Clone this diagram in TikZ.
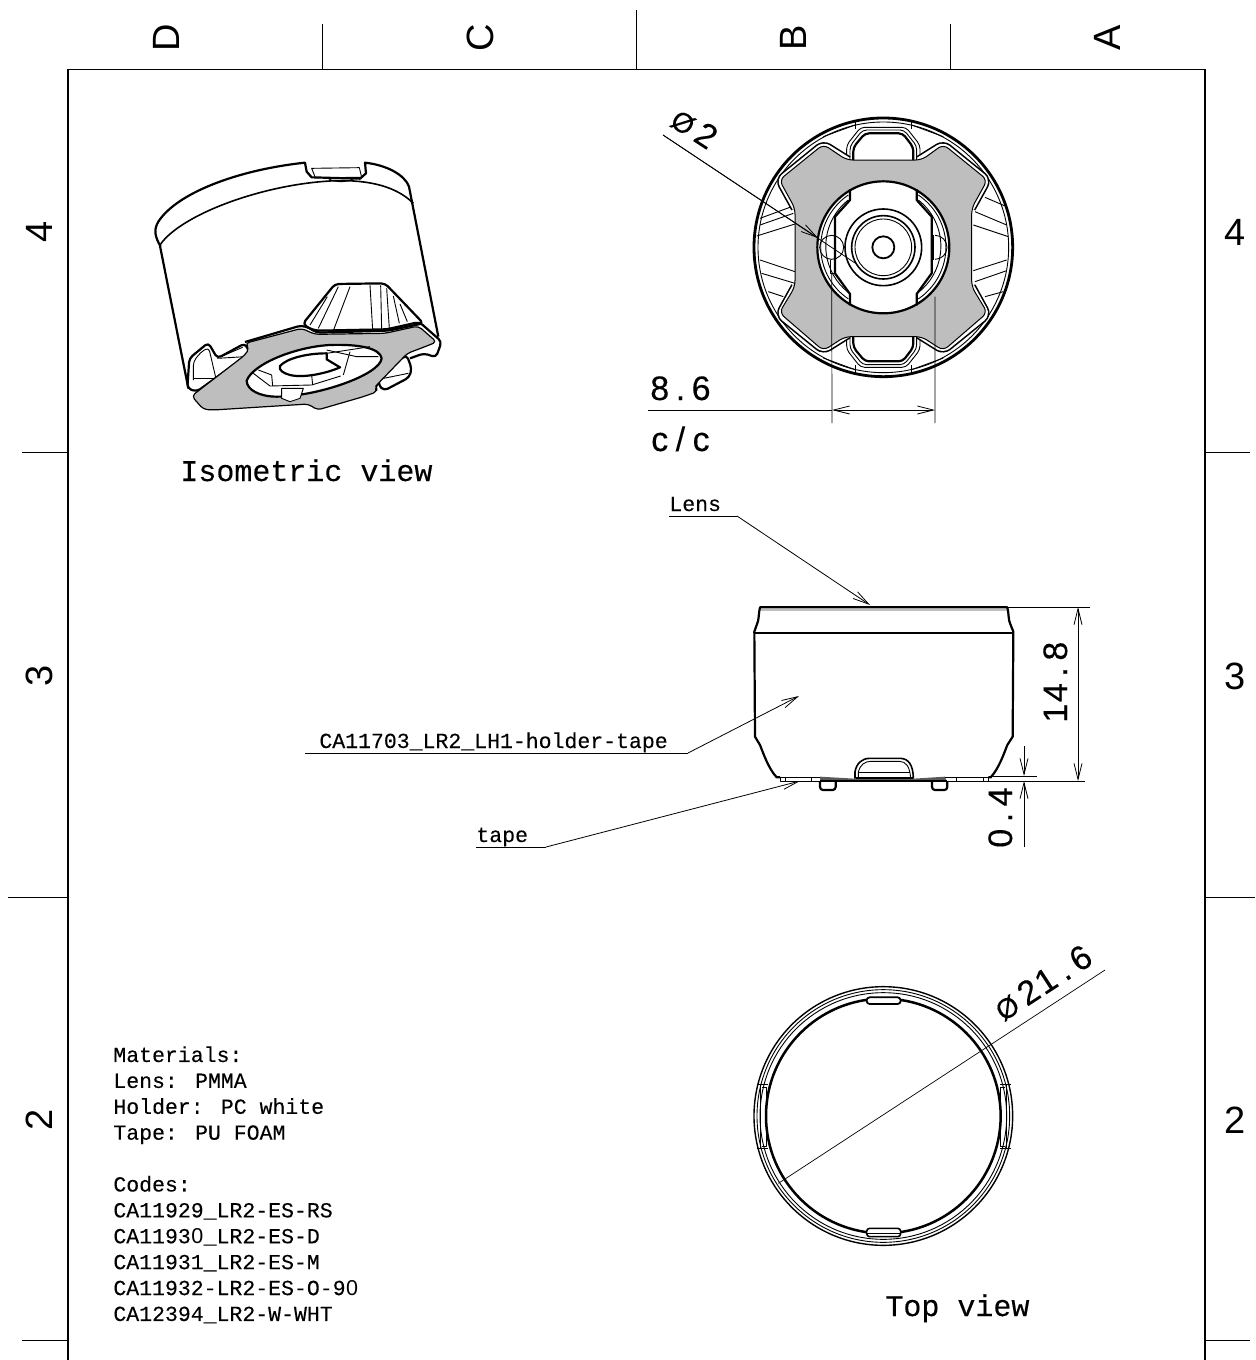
\documentclass[tikz,border=0pt]{standalone}
\usepackage{fontspec}
\setmainfont{Liberation Mono}
\newfontfamily\sidefont{Liberation Sans}
\usetikzlibrary{arrows.meta}
\usetikzlibrary{positioning}
\definecolor{plategray}{HTML}{BEBEBE}
\tikzstyle{thin line} = [line width = 0.35pt]
\tikzstyle{part} = [line width = 1.1pt, line join = round]
\tikzstyle{detail} = [line width = 0.45pt, line join = round]
\tikzstyle{plate} = [fill = plategray, line width = 0.6pt, line join = round]
\tikzstyle{arrow} = [line width = 0.4pt, -{Straight Barb[length = 8pt, width = 4pt]}]
\tikzstyle{zone} = [font = \sidefont\fontsize{19}{20}\selectfont, inner sep = 0pt]
\tikzstyle{sidezone} = [zone, rotate = 90]
\tikzstyle{note} = [font = \fontsize{10.75}{12.95}\selectfont\addfontfeature{FakeBold = 0.15}, inner sep = 0pt, anchor = base west]
\tikzstyle{title} = [font = \fontsize{15}{16}\selectfont\addfontfeature{FakeBold = 0.25}, inner sep = 0pt, anchor = base west]
\tikzstyle{dim} = [font = \sidefont\fontsize{17}{18}\selectfont\addfontfeature{FakeBold = 0.25}, inner sep = 0pt, anchor = base west]
% Fixed cell for the digits of a dimension
\newcommand{\cell}[1]{\hbox to 10.35pt{\hss#1\hss}}
\newcommand{\diam}{\hbox to 16pt{\hss\fontsize{14}{14}\selectfont Ø\hss}}
\newcommand{\plainzero}{\hbox to 0.6em{\hss{\sidefont 0}\hss}}
\begin{document}
\begin{tikzpicture}[x = 0.5pt, y = -0.5pt]
	\useasboundingbox (0, 0) rectangle (1255, 1360);

	% Frame and zone ticks
	\draw[line width = 0.9pt] (68, 1360) -- (68, 69);
	\draw[line width = 0.9pt] (1205, 69) -- (1205, 1360);
	\draw[line width = 0.5pt] (68, 69) -- (1205, 69);
	\draw[thin line] (322, 24) -- (322, 69);
	\draw[thin line] (636, 10) -- (636, 69);
	\draw[thin line] (950, 24) -- (950, 69);
	\draw[thin line] (22, 452) -- (68, 452);
	\draw[thin line] (8, 897) -- (68, 897);
	\draw[thin line] (22, 1340) -- (68, 1340);
	\draw[thin line] (1205, 452) -- (1250, 452);
	\draw[thin line] (1205, 897) -- (1255, 897);
	\draw[thin line] (1205, 1340) -- (1250, 1340);

	% Zone letters and numbers
	\node[sidezone] (zoneD) at (166, 38) {D};
	\node[sidezone] (zoneC) at (480, 38) {C};
	\node[sidezone] (zoneB) at (793, 38) {B};
	\node[sidezone] (zoneA) at (1107, 38) {A};
	\node[sidezone] (left4) at (39, 232) {4};
	\node[sidezone] (left3) at (39, 676) {3};
	\node[sidezone] (left2) at (39, 1120) {2};
	\node[zone] (right4) at (1235, 232) {4};
	\node[zone] (right3) at (1235, 676) {3};
	\node[zone] (right2) at (1235, 1120) {2};

	% Isometric view
	\begin{scope}[shift = {(130, 140)}, scale = 1/3]
		\draw[part] (92, 320) .. controls (75, 290) and (70, 270) .. (85, 245) .. controls (140, 160) and (320, 90) .. (525, 68) -- (530, 95) -- (545, 112) -- (690, 116) -- (708, 100) -- (705, 68) .. controls (770, 75) and (825, 105) .. (837, 140) -- (925, 590);
		\draw[part] (90, 318) -- (175, 745);
		\draw[part, line width = 0.8pt] (90, 315) .. controls (150, 225) and (400, 130) .. (620, 122) .. controls (720, 120) and (800, 140) .. (850, 190);
		\draw[detail] (545, 85) -- (688, 83) -- (695, 112) -- (556, 113) -- cycle;
		\draw[detail] (595, 116) .. controls (615, 128) and (650, 128) .. (670, 116);
		% Cone of the holder
		\draw[fill = white, part, rounded corners = 2pt] (518, 552) -- (615, 432) -- (765, 430) -- (880, 550) -- (775, 572) -- (560, 578) -- cycle;
		\foreach \xa/\ya/\xb/\yb in {540/555/592/470, 565/565/625/440, 610/572/660/440, 728/570/720/435, 755/570/752/436, 778/565/770/445, 808/550/790/468, 832/545/810/492}
			\draw[detail] (\xa, \ya) -- (\xb, \yb);
		% Left tab
		\draw[part, fill = white, rounded corners = 2pt] (172, 745) -- (178, 655) -- (235, 608) -- (262, 655) -- (345, 610) -- (360, 640) -- (200, 755) -- cycle;
		\draw[detail, rounded corners = 2pt] (190, 720) -- (190, 665) -- (212, 637) -- (236, 622) -- (258, 716);
		\draw[detail] (190, 716) -- (258, 716);
		\draw[detail] (262, 655) -- (345, 650);
		\draw[detail] (272, 650) -- (338, 622);
		% Right tab
		\draw[part, fill = white, rounded corners = 2pt] (745, 735) -- (762, 752) -- (838, 712) -- (845, 685) -- (830, 645) -- (750, 700) -- cycle;
		\draw[detail] (756, 716) -- (835, 700);
		% Plate
		\draw[part, rounded corners = 2pt] (345, 606) -- (515, 556) -- (558, 572) -- (770, 568) -- (868, 546) -- (935, 605) -- (918, 652) -- (882, 640) -- (840, 655);
		\draw[plate, rounded corners = 2pt] (185, 768) -- (345, 645) -- (358, 625) -- (345, 610) -- (515, 565) -- (555, 583) -- (765, 580) -- (865, 558) -- (920, 606) -- (880, 622) -- (832, 640) -- (745, 730) -- (736, 740) -- (742, 755) -- (700, 770) -- (562, 810) -- (535, 792) -- (250, 810) -- (220, 808) -- cycle;
		% Hole of the plate
		\draw[part, fill = white] (350, 722) .. controls (370, 670) and (500, 620) .. (600, 615) .. controls (690, 612) and (750, 625) .. (755, 655) .. controls (750, 705) and (560, 770) .. (440, 770) .. controls (390, 770) and (350, 750) .. (350, 722) -- cycle;
		\draw[part] (450, 678) .. controls (470, 655) and (530, 640) .. (590, 640) -- (590, 658) -- (630, 682) .. controls (590, 700) and (520, 715) .. (480, 705) .. controls (460, 700) and (445, 690) .. (450, 678) -- cycle;
		\draw[detail] (370, 700) -- (420, 738) -- (545, 735) -- (632, 708);
		\draw[detail] (425, 705) -- (428, 738);
		\draw[detail] (545, 705) -- (548, 735);
		\draw[detail] (385, 690) -- (425, 705);
		\draw[detail] (590, 640) -- (720, 620);
		\draw[detail] (660, 635) -- (640, 705);
		\draw[detail] (590, 630) -- (680, 650) -- (745, 650);
		\draw[detail, fill = white] (455, 745) -- (455, 775) -- (480, 785) -- (510, 775) -- (520, 745) -- cycle;
	\end{scope}
	\node[title] (isoview) at (180, 481) {Isometric view};

	% Front view
	\begin{scope}[shift = {(740, 110)}, scale = 1/3]
		\coordinate (fc) at (430, 412);
		\draw[part, line width = 1.4pt] (fc) circle (388);
		\draw[detail] (fc) circle (376);
		% Wedge lines
		\foreach \xa/\ya/\xb/\yb in {60/325/155/290, 60/345/160/310, 50/378/165/342, 60/450/165/485, 65/490/165/520, 85/545/130/560, 735/262/800/290, 705/305/800/345, 700/345/805/380, 700/482/800/450, 705/515/800/482, 735/560/790/545}
			\draw[detail] (\xa, \ya) -- (\xb, \yb);
		% Tabs
		\foreach \sy in {1, -1} {
			\begin{scope}[shift = {(0, 412)}, yscale = \sy, shift = {(0, -412)}]
				\draw[detail, fill = white, rounded corners = 2pt] (320, 150) -- (320, 105) -- (362, 52) -- (498, 52) -- (540, 105) -- (540, 150);
				\draw[detail, rounded corners = 2pt] (330, 150) -- (330, 108) -- (368, 60) -- (492, 60) -- (530, 108) -- (530, 150);
				\draw[part, rounded corners = 2pt] (340, 150) -- (340, 112) -- (375, 70) -- (488, 70) -- (520, 112) -- (520, 150);
				\draw[detail] (345, 35) -- (345, 58);
				\draw[detail] (515, 35) -- (515, 58);
				\draw[detail] (250, 80) -- (345, 45);
				\draw[detail] (610, 80) -- (515, 45);
			\end{scope}
		}
		% Gray plate with its offset border
		\def\platepath{(250, 103) -- (320, 150) -- (545, 150) -- (610, 103) -- (742, 210) -- (695, 295) -- (695, 530) -- (742, 608) -- (610, 722) -- (545, 680) -- (315, 680) -- (250, 722) -- (118, 608) -- (165, 530) -- (165, 295) -- (118, 210) -- cycle}
		\foreach \sx/\sy in {1/1, -1/1, 1/-1, -1/-1} {
			\begin{scope}[shift = {(430, 412)}, xscale = \sx, yscale = \sy, shift = {(-430, -412)}]
				\draw[line width = 4.2pt, rounded corners = 3pt] (325, 150) -- (250, 103) -- (118, 210) -- (165, 295);
				\draw[white, line width = 2.6pt, rounded corners = 3pt] (325, 150) -- (250, 103) -- (118, 210) -- (165, 295);
			\end{scope}
		}
		\draw[plate, rounded corners = 3pt, line width = 0.5pt] \platepath;
		% Hole of the plate
		\draw[part, fill = white] (fc) circle (198);
		\foreach \sx in {1, -1} {
			\begin{scope}[shift = {(430, 0)}, xscale = \sx, shift = {(-430, 0)}]
				\draw[part] (330, 238) -- (330, 270) -- (285, 320) -- (285, 490) -- (330, 552) -- (330, 586);
				\draw[detail] (325, 255) arc (236 : 124 : 188);
				\draw[detail] (325, 270) arc (232 : 128 : 176);
			\end{scope}
		}
		\draw[line width = 1.3pt] (285, 375) -- (285, 450);
		\draw[line width = 1.3pt] (577, 375) -- (577, 450);
		\draw[detail] (270, 450) -- (270, 490) -- (285, 490);
		% Hole circles
		\draw[detail] (275, 412) circle (36);
		\draw[detail] (585, 376) arc (-90 : 90 : 36);
		% Centre rings
		\draw[part, line width = 0.8pt] (fc) circle (115);
		\draw[part, line width = 0.8pt] (fc) circle (95);
		\draw[detail] (fc) circle (85);
		\draw[part, line width = 0.9pt] (fc) circle (33);
		% Extension lines
		\coordinate (extl) at (275, 490);
		\coordinate (extr) at (585, 560);
	\end{scope}
	\coordinate (extlb) at (832, 423);
	\coordinate (extrb) at (935, 423);
	\coordinate (pitchl) at (832, 410);
	\coordinate (pitchr) at (935, 410);
	\coordinate (pitchend) at (648, 410);
	\draw[thin line] (extl) -- (extlb);
	\draw[thin line] (extr) -- (extrb);
	\draw[thin line] (pitchend) -- (pitchl);
	\draw[arrow] (884, 410) -- (pitchl);
	\draw[arrow] (884, 410) -- (pitchr);
	\node[dim] (pitch) at (649, 400) {\cell{8}\cell{.}\cell{6}};
	\node[dim] (cc) at (649, 451) {\cell{c}\cell{/}\cell{c}};
	% Hole dimension
	\node[dim, rotate = -33] (holedim) at (664, 122) {\diam\cell{2}};
	\coordinate (holestart) at (663, 135);
	\coordinate (holeend) at (855, 263);
	\draw[thin line] (holestart) -- (holeend);
	\draw[arrow] (holestart) -- (818, 238);

	% Side view
	\begin{scope}[shift = {(740, 590)}, scale = 1/3]
		\draw[plategray, line width = 1pt] (62, 60) -- (800, 60);
		\draw[part] (120, 562) -- (110, 562) .. controls (85, 535) and (70, 490) .. (60, 465) -- (45, 440) -- (43, 125) -- (50, 105) .. controls (58, 90) and (55, 70) .. (60, 52) -- (802, 52) .. controls (807, 70) and (804, 90) .. (812, 105) -- (820, 125) -- (818, 440) -- (802, 465) .. controls (792, 490) and (777, 535) .. (752, 562) -- (745, 562);
		\draw[part] (45, 128) -- (818, 128);
		% Tape
		\draw[detail] (120, 562) -- (240, 562);
		\draw[detail] (600, 562) -- (745, 562) -- (745, 574) -- (120, 574) -- (120, 562);
		\draw[detail] (135, 562) -- (135, 574);
		\draw[detail] (215, 562) -- (215, 574);
		\draw[detail] (648, 562) -- (648, 574);
		\draw[detail] (730, 562) -- (730, 574);
		\fill[black!65] (240, 560) -- (345, 566) -- (520, 566) -- (615, 560) -- (620, 574) -- (240, 574) -- cycle;
		\draw[part] (240, 574) -- (620, 574);
		% Top tab
		\draw[part, line width = 0.8pt, fill = white] (345, 566) -- (345, 545) .. controls (350, 520) and (365, 505) .. (390, 505) -- (480, 505) .. controls (505, 505) and (520, 525) .. (520, 566);
		\draw[detail] (355, 566) -- (355, 545) .. controls (360, 525) and (375, 514) .. (392, 514) -- (478, 514) .. controls (498, 514) and (510, 530) .. (512, 566);
		\draw[part, line width = 0.7pt] (355, 548) -- (510, 548);
		\draw[part, line width = 0.7pt] (348, 564) -- (518, 564);
		% Feet
		\draw[part, rounded corners = 1.5pt] (240, 574) -- (240, 600) -- (287, 600) -- (287, 574);
		\draw[part, rounded corners = 1.5pt] (576, 574) -- (576, 600) -- (622, 600) -- (622, 574);
	\end{scope}

	% Side view leaders
	\node[note] (lenslabel) at (669, 511) {Lens};
	\coordinate (lensstart) at (669, 516);
	\coordinate (lensbend) at (737, 516);
	\coordinate (lenstip) at (870, 605);
	\draw[thin line] (lensstart) -- (lensbend);
	\draw[arrow] (lensbend) -- (lenstip);
	\node[note] (holderlabel) at (319, 748) {CA11703\_LR2\_LH1-holder-tape};
	\coordinate (holderstart) at (305, 753);
	\coordinate (holderbend) at (688, 753);
	\coordinate (holdertip) at (799, 696);
	\draw[thin line] (holderstart) -- (holderbend);
	\draw[arrow] (holderbend) -- (holdertip);
	\node[note] (tapelabel) at (476, 842) {tape};
	\coordinate (tapestart) at (476, 847);
	\coordinate (tapebend) at (546, 847);
	\coordinate (tapetip) at (800, 781);
	\draw[thin line] (tapestart) -- (tapebend);
	\draw[arrow] (tapebend) -- (tapetip);

	% Height dimensions
	\coordinate (topext) at (1008, 607);
	\coordinate (topextend) at (1090, 607);
	\coordinate (botext) at (988, 781);
	\coordinate (botextend) at (1085, 781);
	\draw[thin line] (topext) -- (topextend);
	\draw[thin line] (botext) -- (botextend);
	\draw[arrow] (1078, 694) -- (1078, 607);
	\draw[arrow] (1078, 694) -- (1078, 781);
	\node[dim, rotate = 90] (height) at (1067, 724) {\cell{1}\cell{4}\cell{.}\cell{8}};
	\coordinate (tapeext) at (993, 776);
	\coordinate (tapeextend) at (1037, 776);
	\draw[thin line] (tapeext) -- (tapeextend);
	\coordinate (tapedimtop) at (1024, 746);
	\coordinate (tapedimbot) at (1024, 847);
	\draw[arrow] (tapedimtop) -- (1024, 776);
	\draw[arrow] (tapedimbot) -- (1024, 781);
	\node[dim, rotate = 90] (tapedim) at (1012, 849) {\cell{0}\cell{.}\cell{4}};

	% Top view
	\begin{scope}[shift = {(740, 980)}, scale = 1/3]
		\coordinate (tc) at (430, 408);
		\draw[part, line width = 0.7pt] (tc) circle (388);
		\draw[detail] (tc) circle (379);
		\draw[detail] (tc) circle (370);
		\draw[part, line width = 1.25pt] (tc) circle (352);
		% Tabs
		\draw[part, fill = white, line width = 0.9pt, rounded corners = 1.5pt] (380, 52) rectangle (482, 72);
		\draw[part, fill = white, line width = 0.8pt, rounded corners = 1.5pt] (380, 745) rectangle (482, 770);
		\draw[detail, line width = 0.8pt] (380, 760) -- (482, 760);
		\draw[detail, line width = 0.8pt] (52, 314) -- (85, 314);
		\draw[detail, line width = 0.8pt] (52, 506) -- (85, 506);
		\draw[detail] (60, 314) -- (60, 506);
		\draw[detail] (66, 322) -- (80, 322) -- (80, 498) -- (66, 498);
		\draw[detail, line width = 0.8pt] (780, 314) -- (812, 314);
		\draw[detail, line width = 0.8pt] (780, 506) -- (812, 506);
		\draw[detail] (800, 314) -- (800, 506);
		\draw[detail] (796, 322) -- (782, 322) -- (782, 498) -- (796, 498);
		\coordinate (diaend) at (115, 610);
	\end{scope}
	\coordinate (diastart) at (1105, 970);
	\draw[thin line] (diaend) -- (diastart);
	\node[dim, rotate = 33] (diadim) at (999, 1025) {\diam\cell{2}\cell{1}\cell{.}\cell{6}};
	\node[title] (topview) at (885, 1316) {Top view};

	% Notes
	\node[note, anchor = north west, align = left] (materials) at (113, 1046) {Materials:\\Lens: PMMA\\Holder: PC white\\Tape: PU FOAM\\[12.95pt]Codes:\\CA11929\_LR2-ES-RS\\CA1193\plainzero\_LR2-ES-D\\CA11931\_LR2-ES-M\\CA11932-LR2-ES-O-9\plainzero\\CA12394\_LR2-W-WHT};
\end{tikzpicture}
\end{document}
